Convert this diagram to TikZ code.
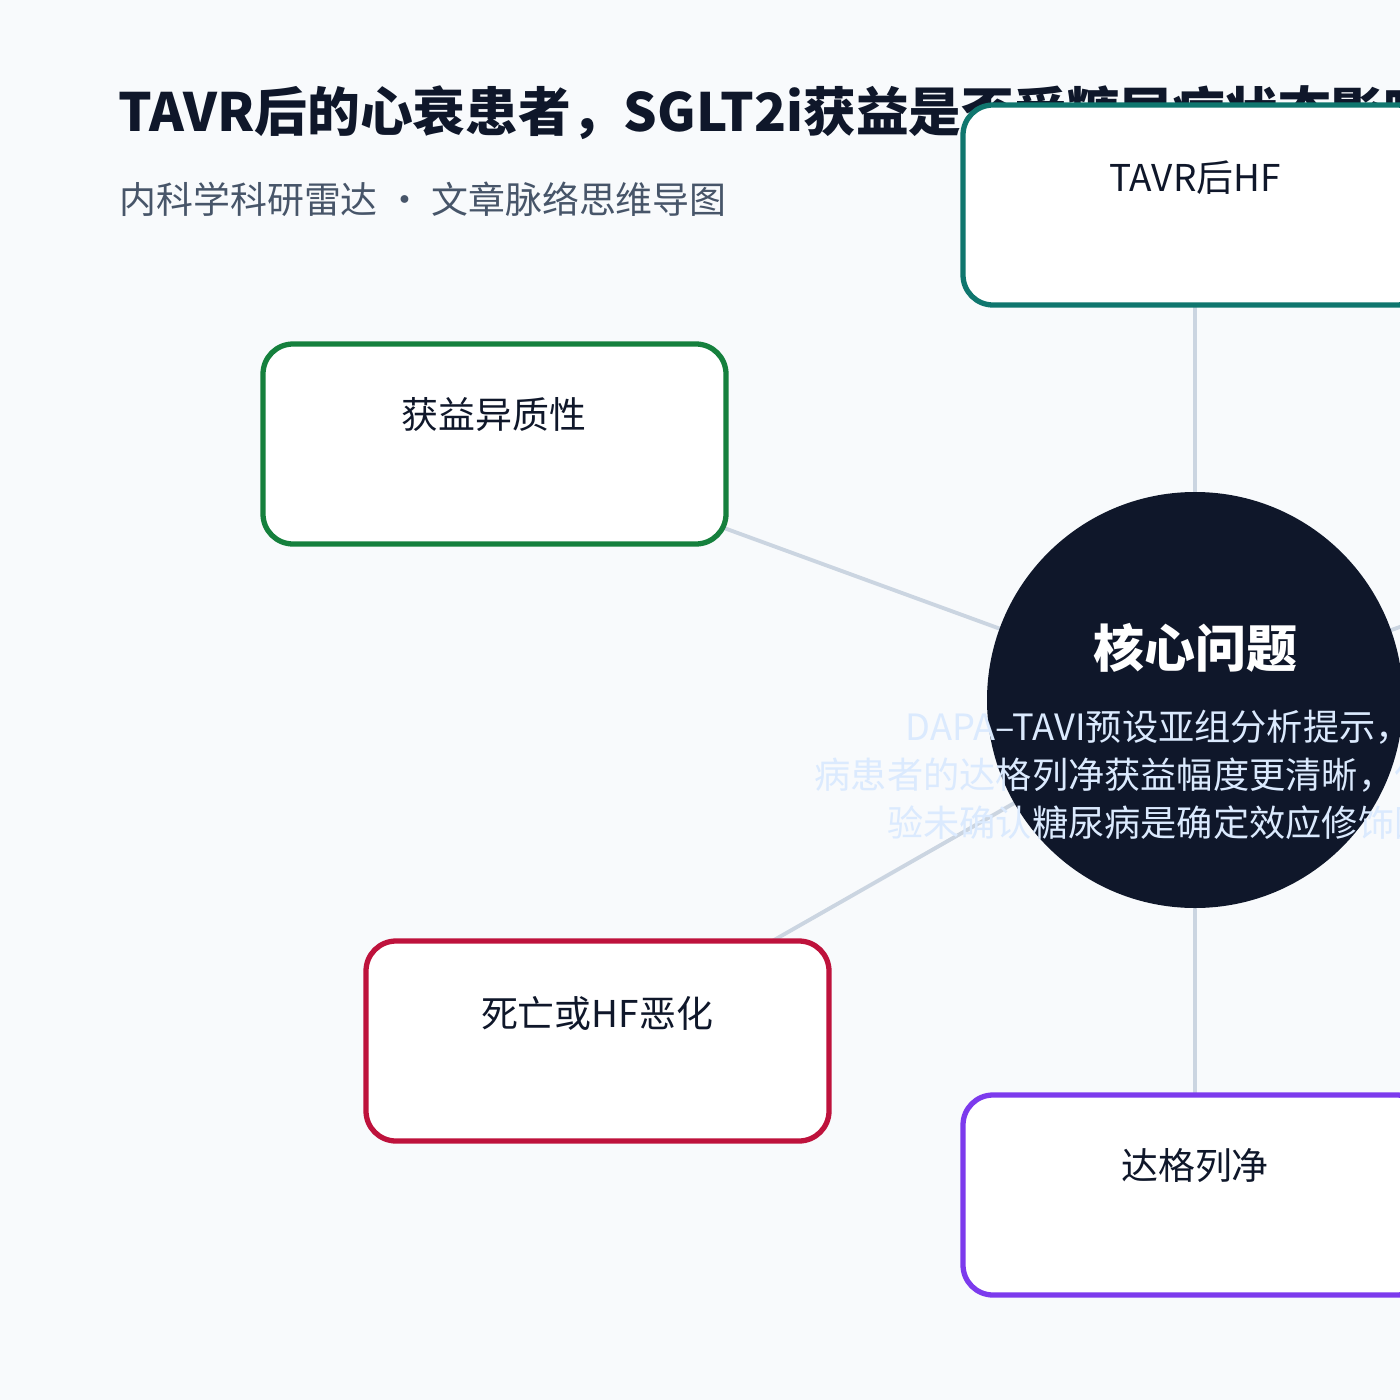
\documentclass[tikz,border=0pt]{standalone}
\usepackage{fontspec}
\setmainfont{Noto Sans CJK SC}
\begin{document}
\begin{tikzpicture}[x=0.01cm,y=-0.01cm,
  box/.style={draw,line width=1.5pt,rounded corners=0.3cm,fill=white},
  edge/.style={draw=edgec,line width=1.1pt},
  lab/.style={font=\fontsize{10.5pt}{12pt}\selectfont,text=ink}]
\definecolor{bg}{HTML}{F8FAFC}\definecolor{ink}{HTML}{0F172A}
\definecolor{edgec}{HTML}{CBD5E1}\definecolor{sub}{HTML}{475569}
\definecolor{teal}{HTML}{0F766E}\definecolor{grn}{HTML}{15803D}
\definecolor{rd}{HTML}{BE123C}\definecolor{pur}{HTML}{7C3AED}
\definecolor{faint}{HTML}{DBEAFE}
\useasboundingbox (0,0) rectangle (1400,1400);
\clip (0,0) rectangle (1400,1400);
\fill[bg] (0,0) rectangle (1400,1400);
\node[anchor=base west,font=\bfseries\fontsize{15pt}{18pt}\selectfont,text=ink] (title) at (106,132) {TAVR后的心衰患者，SGLT2i获益是否受糖尿病状态影响？};
\node[anchor=base west,font=\fontsize{10.5pt}{12pt}\selectfont,text=sub] (subt) at (107,213) {内科学科研雷达 · 文章脉络思维导图};
\coordinate (c) at (1195,700);
\coordinate (off) at (1700,520);
\coordinate (tc) at (1195,205);\coordinate (gc) at (494,444);
\coordinate (rc) at (597,1041);\coordinate (pc) at (1195,1195);
\path[edge] (c)--(tc) (c)--(gc) (c)--(rc) (c)--(pc) (c)--(off);
\draw[box,draw=teal] (963,105) rectangle (1427,305);
\draw[box,draw=grn] (263,344) rectangle (726,544);
\draw[box,draw=rd] (366,941) rectangle (829,1141);
\draw[box,draw=pur] (963,1095) rectangle (1427,1295);
\node[lab] (t1) at (1195,178) {TAVR后HF};
\node[lab] (t2) at (494,415) {获益异质性};
\node[lab] (t3) at (597,1013) {死亡或HF恶化};
\node[lab] (t4) at (1195,1166) {达格列净};
\fill[ink] (c) circle (208);
\node[font=\bfseries\fontsize{14.5pt}{16pt}\selectfont,text=white] (core) at (1195,648) {核心问题};
\node[font=\fontsize{10.3pt}{13.6pt}\selectfont,text=faint,align=center] (desc) at (1195,775)
 {DAPA–TAVI预设亚组分析提示，合并\\病患者的达格列净获益幅度更清晰，但交互检验\\验未确认糖尿病是确定效应修饰因子。};
\end{tikzpicture}
\end{document}
